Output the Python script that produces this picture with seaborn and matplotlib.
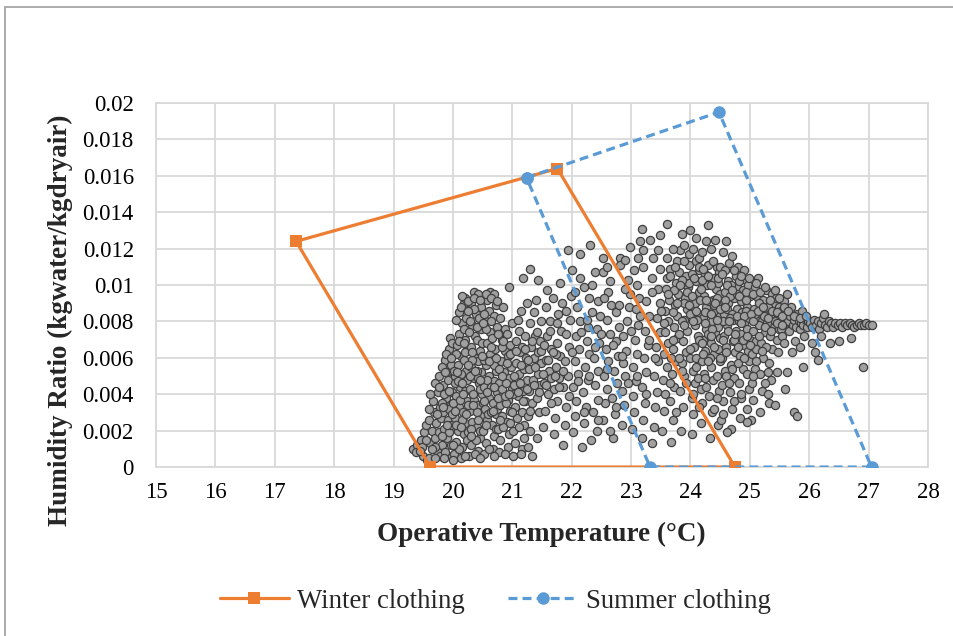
import numpy as np
import pandas as pd
import matplotlib
matplotlib.use("Agg")
import matplotlib.pyplot as plt
import seaborn as sns
from matplotlib.ticker import FuncFormatter
from matplotlib.patches import Rectangle

# comfort zone outlines (operative temperature in C, humidity ratio kg/kg)
winter_t = [19.62, 17.36, 21.76, 24.75, 19.62]
winter_w = [0.0, 0.0124, 0.0164, 0.0, 0.0]
summer_t = [21.24, 24.48, 27.05, 23.32, 21.24]
summer_w = [0.0159, 0.0195, 0.0, 0.0, 0.0159]

cloud = [
    (19.33,1.0),(19.4,1.2),(19.38,0.8),(19.46,1.5),(19.5,0.6),(19.52,1.9),(19.48,1.1),(19.55,2.3),(19.56,0.4),
    (19.6,0.5),(19.62,1.3),(19.65,2.0),(19.6,2.6),(19.68,3.0),(19.7,1.6),(19.72,2.4),(19.66,3.6),(19.75,4.1),
    (19.74,0.9),(19.78,3.3),(19.77,1.9),(19.62,4.0),(19.7,4.6),(19.8,2.7),(19.79,0.6),(19.76,5.0),
    (19.82,1.2),(19.85,2.1),(19.83,3.0),(19.88,3.8),(19.84,4.5),(19.9,5.2),(19.86,5.9),(19.93,6.5),(19.95,7.1),
    (19.9,1.6),(19.92,2.6),(19.96,3.4),(19.98,4.1),(19.91,4.8),(19.97,5.6),(19.99,0.6),(19.87,0.8),(19.94,1.9),
    (19.81,3.5),(19.89,6.2),(19.97,2.3),(19.85,4.0),(19.99,6.8),(19.93,3.2),(19.96,1.2),(19.82,5.5),
    (20.02,0.7),(20.05,1.4),(20.08,2.0),(20.03,2.7),(20.1,3.3),(20.06,3.9),(20.12,4.4),(20.04,5.0),(20.09,5.6),
    (20.14,6.1),(20.07,6.7),(20.11,7.3),(20.15,7.9),(20.1,8.5),(20.18,9.0),(20.2,9.3),(20.16,1.1),(20.19,1.8),
    (20.21,2.4),(20.17,3.0),(20.23,3.6),(20.2,4.2),(20.24,4.8),(20.22,5.3),(20.18,5.9),(20.24,6.5),(20.21,7.0),
    (20.13,0.5),(20.01,3.5),(20.03,4.6),(20.06,6.2),(20.13,5.1),(20.15,2.6),(20.22,8.2),(20.19,7.6),(20.08,4.7),
    (20.12,3.7),(20.05,2.3),(20.24,1.5),(20.1,1.0),(20.17,4.0),(20.02,5.3),(20.2,6.3),(20.14,8.8),
    (20.27,0.6),(20.3,1.2),(20.26,1.9),(20.33,2.5),(20.29,3.1),(20.35,3.7),(20.28,4.3),(20.36,4.9),(20.31,5.5),
    (20.38,6.0),(20.3,6.6),(20.37,7.2),(20.33,7.8),(20.39,8.4),(20.3,9.0),(20.36,9.6),(20.42,0.9),(20.45,1.6),
    (20.41,2.2),(20.47,2.8),(20.43,3.4),(20.49,4.0),(20.44,4.6),(20.48,5.2),(20.42,5.8),(20.46,6.4),(20.41,7.0),
    (20.48,7.6),(20.44,8.2),(20.47,8.8),(20.43,9.5),(20.26,3.4),(20.28,5.0),(20.34,4.0),(20.4,3.0),(20.32,5.9),
    (20.45,4.3),(20.39,1.5),(20.27,7.4),(20.35,8.7),(20.49,6.8),(20.4,5.3),(20.3,2.1),(20.46,2.0),(20.37,0.7),
    (20.5,3.5),(20.33,6.3),(20.42,4.9),
    (20.52,0.7),(20.55,1.3),(20.51,2.0),(20.58,2.6),(20.54,3.2),(20.6,3.8),(20.53,4.4),(20.61,5.0),(20.56,5.6),
    (20.63,6.2),(20.57,6.8),(20.62,7.4),(20.55,8.0),(20.6,8.6),(20.58,9.2),(20.62,9.6),(20.67,1.0),(20.7,1.7),
    (20.66,2.3),(20.72,2.9),(20.68,3.5),(20.74,4.1),(20.69,4.7),(20.73,5.3),(20.67,5.9),(20.71,6.5),(20.66,7.1),
    (20.74,7.7),(20.69,8.3),(20.72,8.9),(20.7,9.5),(20.52,3.6),(20.57,4.8),(20.64,4.4),(20.59,2.9),(20.65,3.0),
    (20.53,5.9),(20.75,3.2),(20.6,1.0),(20.73,2.1),(20.64,6.6),(20.56,7.6),(20.7,5.6),
    (20.77,0.8),(20.8,1.5),(20.76,2.1),(20.83,2.8),(20.79,3.4),(20.85,4.0),(20.78,4.6),(20.86,5.2),(20.81,5.8),
    (20.88,6.4),(20.82,7.0),(20.87,7.6),(20.8,8.2),(20.84,8.8),(20.92,1.1),(20.95,1.8),(20.91,2.5),(20.97,3.1),
    (20.93,3.7),(20.99,4.3),(20.94,4.9),(20.98,5.5),(20.92,6.1),(20.96,6.7),(20.91,7.3),(20.99,7.9),(20.95,9.9),
    (20.76,3.8),(20.82,4.3),(20.89,3.5),(20.85,2.2),(20.9,4.6),(20.78,5.4),(20.96,2.4),(20.88,0.7),(20.83,6.6),
    (21.02,0.6),(21.05,1.3),(21.01,2.0),(21.08,2.7),(21.04,3.3),(21.1,3.9),(21.03,4.5),(21.11,5.1),(21.06,5.7),
    (21.13,6.3),(21.07,6.9),(21.12,7.5),(21.09,8.1),(21.18,10.4),(21.17,1.0),(21.2,2.3),(21.16,3.0),(21.22,3.6),
    (21.18,4.2),(21.24,4.8),(21.19,5.4),(21.23,6.0),(21.17,6.6),(21.21,7.2),(21.15,8.6),(21.24,9.0),(21.14,0.7),
    (21.01,4.0),(21.13,4.6),(21.2,1.6),
    (21.27,1.1),(21.3,2.0),(21.26,2.8),(21.33,3.5),(21.29,4.2),(21.35,4.8),(21.28,5.4),(21.36,6.0),(21.31,6.6),
    (21.38,7.2),(21.3,7.9),(21.37,8.5),(21.3,10.9),(21.43,10.3),(21.42,1.6),(21.45,3.0),(21.41,3.8),(21.47,4.5),
    (21.44,5.1),(21.49,5.7),(21.43,6.3),(21.46,6.9),(21.48,8.0),(21.4,9.2),(21.34,0.6),
    (21.52,2.2),(21.55,3.1),(21.58,9.7),(21.6,4.0),(21.53,4.6),(21.62,5.3),(21.56,5.9),(21.65,6.5),(21.59,7.2),
    (21.64,8.0),(21.57,8.8),(21.68,9.3),(21.7,1.8),(21.72,2.7),(21.75,3.6),(21.71,4.3),(21.78,4.9),(21.74,5.5),
    (21.8,6.1),(21.76,6.8),(21.82,7.5),(21.77,8.4),(21.84,9.0),(21.8,10.1),(21.88,2.3),(21.9,3.3),(21.86,4.4),
    (21.93,5.0),(21.89,5.8),(21.95,6.6),(21.91,7.3),(21.97,8.1),(21.94,11.9),(21.99,9.4),(21.85,1.2),(21.66,4.9),
    (21.73,6.2),
    (22.02,1.9),(22.05,2.8),(22.08,3.6),(22.03,4.4),(22.1,5.1),(22.06,5.8),(22.12,6.5),(22.07,7.2),(22.14,8.0),
    (22.09,8.8),(22.14,10.4),(22.14,11.7),(22.18,1.1),(22.2,2.4),(22.24,3.3),(22.19,4.1),(22.27,4.8),(22.22,5.5),
    (22.3,6.2),(22.25,6.9),(22.31,12.2),(22.28,7.7),(22.34,8.5),(22.3,9.3),(22.39,10.7),(22.36,3.0),(22.4,4.5),
    (22.44,5.3),(22.38,6.0),(22.46,6.8),(22.42,7.6),(22.48,8.3),(22.45,9.1),(22.43,2.0),(22.33,1.5),
    (22.53,11.5),(22.53,10.7),(22.52,2.6),(22.56,3.5),(22.6,4.3),(22.55,5.0),(22.62,5.8),(22.58,6.5),(22.64,7.3),
    (22.59,8.1),(22.66,8.9),(22.61,9.6),(22.7,1.6),(22.73,2.9),(22.68,3.8),(22.76,4.6),(22.71,5.3),(22.78,6.1),
    (22.74,6.9),(22.8,7.7),(22.75,8.5),(22.81,11.5),(22.81,11.1),(22.85,2.3),(22.88,3.4),(22.84,4.2),(22.9,5.0),
    (22.86,5.7),(22.92,6.4),(22.87,7.2),(22.95,10.3),(22.93,8.0),(22.98,12.1),(22.96,8.8),(22.99,9.5),(22.65,2.0),
    (23.02,2.1),(23.05,3.0),(23.03,3.9),(23.08,4.7),(23.04,5.5),(23.1,6.2),(23.06,7.0),(23.11,7.8),(23.1,10.0),
    (23.11,11.5),(23.15,12.4),(23.18,13.1),(23.08,8.7),(23.14,9.3),(23.18,1.6),(23.2,2.6),(23.24,3.5),(23.19,4.4),
    (23.26,5.2),(23.22,6.0),(23.28,6.7),(23.23,7.5),(23.3,8.3),(23.25,9.1),(23.32,12.5),(23.35,10.4),(23.37,11.5),
    (23.38,2.2),(23.4,3.3),(23.44,4.1),(23.39,5.0),(23.46,5.8),(23.42,6.6),(23.48,7.4),(23.43,8.2),(23.49,9.0),
    (23.45,9.8),(23.48,10.9),(23.48,12.75),(23.36,1.3),
    (23.6,13.35),(23.6,10.4),(23.52,2.0),(23.55,3.1),(23.58,4.0),(23.53,4.8),(23.6,5.5),(23.56,6.2),(23.62,6.8),
    (23.57,7.4),(23.63,8.0),(23.58,8.6),(23.64,9.2),(23.59,9.8),(23.65,10.9),(23.61,11.5),(23.68,1.4),(23.7,2.6),
    (23.66,3.6),(23.73,4.4),(23.69,5.1),(23.75,5.8),(23.71,6.5),(23.77,7.1),(23.72,7.7),(23.78,8.3),(23.74,8.9),
    (23.79,9.5),(23.76,10.1),(23.8,10.7),(23.77,11.3),(23.82,11.9),(23.85,12.8),(23.84,2.0),(23.87,3.3),
    (23.83,4.2),(23.9,5.0),(23.86,5.7),(23.92,6.3),(23.88,6.9),(23.94,7.5),(23.89,8.1),(23.95,8.7),(23.91,9.3),
    (23.96,9.9),(23.92,10.5),(23.98,11.1),(23.97,11.7),(23.93,4.6),(23.99,6.0),(23.99,8.4),(23.55,7.9),
    (23.67,6.0),(23.81,7.3),(23.9,9.0),(23.98,10.1),(23.73,9.7),(23.85,10.3),
    (24.02,1.8),(24.05,2.9),(24.03,3.8),(24.08,4.6),(24.04,5.3),(24.1,6.0),(24.06,6.6),(24.12,7.2),(24.07,7.8),
    (24.13,8.4),(24.08,9.0),(24.14,9.6),(24.09,10.2),(24.15,10.8),(24.1,11.3),(24.05,12.0),(24.0,13.0),
    (24.18,2.4),(24.2,3.5),(24.17,4.3),(24.23,5.1),(24.19,5.8),(24.25,6.4),(24.21,7.0),(24.26,7.6),(24.22,8.2),
    (24.27,8.8),(24.23,9.4),(24.28,10.0),(24.24,10.6),(24.29,11.1),(24.3,13.3),(24.26,12.4),(24.33,1.6),
    (24.36,3.0),(24.32,3.9),(24.38,4.8),(24.34,5.5),(24.4,6.2),(24.35,6.8),(24.41,7.4),(24.37,8.0),(24.42,8.6),
    (24.38,9.2),(24.43,9.8),(24.39,10.4),(24.44,11.0),(24.42,12.5),(24.46,2.3),(24.48,4.2),(24.45,5.0),
    (24.49,5.8),(24.47,6.5),(24.5,7.1),(24.46,7.7),(24.49,8.3),(24.45,8.9),(24.5,9.5),(24.47,10.1),(24.48,10.7),
    (24.5,11.0),(24.11,8.1),(24.16,9.2),(24.2,10.3),(24.25,8.5),(24.31,9.1),(24.34,10.0),(24.4,8.9),(24.29,7.3),
    (24.36,7.6),(24.44,9.3),(24.03,10.6),(24.15,11.0),(24.21,6.2),(24.33,6.0),(24.12,4.9),(24.27,4.4),(24.4,3.2),
    (24.52,2.6),(24.55,3.6),(24.53,4.5),(24.58,5.3),(24.54,6.0),(24.6,6.6),(24.56,7.2),(24.62,7.8),(24.57,8.4),
    (24.63,9.0),(24.58,9.6),(24.64,10.2),(24.59,10.8),(24.6,12.4),(24.65,11.2),(24.68,2.1),(24.7,3.2),
    (24.67,4.1),(24.73,4.9),(24.69,5.6),(24.75,6.3),(24.71,6.9),(24.77,7.5),(24.72,8.1),(24.78,8.7),(24.74,9.3),
    (24.79,9.9),(24.76,10.5),(24.8,11.0),(24.83,2.7),(24.86,3.8),(24.82,4.6),(24.88,5.4),(24.84,6.1),(24.9,6.7),
    (24.85,7.3),(24.91,7.9),(24.87,8.5),(24.92,9.1),(24.88,9.7),(24.93,10.3),(24.9,10.8),(24.96,3.2),(24.98,4.3),
    (24.95,5.1),(24.99,5.8),(24.97,6.4),(25.0,7.0),(24.96,7.6),(24.99,8.2),(24.95,8.8),(25.0,9.4),(24.97,10.0),
    (24.55,8.0),(24.61,8.7),(24.66,9.4),(24.7,8.4),(24.81,8.0),(24.85,9.1),(24.93,8.6),(24.73,7.0),(24.64,7.5),
    (24.89,7.0),(24.78,9.5),(24.58,9.2),(24.82,10.2),(24.69,10.0),(24.94,9.6),(24.6,5.0),(24.8,5.7),(24.74,3.6),
    (24.62,1.9),
    (25.02,2.6),(25.05,3.7),(25.03,4.6),(25.08,5.4),(25.04,6.2),(25.1,6.9),(25.06,7.5),(25.12,8.1),(25.07,8.7),
    (25.13,9.3),(25.08,9.9),(25.14,10.4),(25.18,3.0),(25.2,4.2),(25.17,5.1),(25.23,6.0),(25.19,6.8),(25.25,7.4),
    (25.21,8.0),(25.26,8.6),(25.22,9.2),(25.27,9.7),(25.33,3.5),(25.36,4.8),(25.32,5.7),(25.38,6.5),(25.34,7.2),
    (25.4,7.8),(25.35,8.4),(25.41,9.0),(25.37,9.5),(25.46,5.2),(25.48,6.3),(25.45,7.0),(25.49,7.6),(25.47,8.2),
    (25.5,8.8),(25.44,9.3),(25.09,8.4),(25.16,7.8),(25.24,8.3),(25.29,7.9),(25.15,9.0),(25.31,8.8),(25.43,8.0),
    (25.11,6.5),(25.28,6.6),(25.3,4.0),(25.42,3.4),
    (25.52,7.6),(25.55,8.1),(25.53,8.6),(25.58,9.1),(25.54,7.2),(25.6,7.9),(25.56,8.4),(25.62,9.5),(25.57,6.8),
    (25.64,8.0),(25.66,7.5),(25.68,8.3),(25.7,8.8),(25.72,7.8),(25.74,8.1),(25.76,6.9),(25.78,7.7),(25.8,8.4),
    (25.82,8.0),(25.84,7.6),(25.86,7.9),(25.88,8.6),(25.9,7.8),(25.92,7.2),(25.94,8.1),(25.96,7.7),(25.98,8.0),
    (25.63,5.2),(25.71,6.3),(25.85,6.6),(25.75,3.0),(25.8,2.8),(25.6,4.3),(25.9,5.5),
    (26.02,7.9),(26.05,7.7),(26.08,8.1),(26.11,7.8),(26.14,8.0),(26.17,7.6),(26.2,7.9),(26.23,8.2),(26.26,7.8),
    (26.3,7.7),(26.33,8.0),(26.36,7.9),(26.4,7.7),(26.44,7.9),(26.48,7.8),(26.52,7.9),(26.56,7.7),(26.6,7.9),
    (26.64,7.8),(26.68,7.9),(26.72,7.8),(26.76,7.7),(26.8,7.8),(26.84,7.9),(26.88,7.8),(26.92,7.8),(26.96,7.9),
    (27.0,7.8),(27.05,7.8),(26.1,6.3),(26.2,7.2),(26.35,6.8),(26.5,6.9),(26.7,7.1),(26.9,5.5),(26.25,8.4),
    (26.05,6.8),(26.15,5.9),
    # second pass over the denser parts of the cloud
    (19.7,1.1),(19.73,2.9),(19.77,4.4),(19.81,1.7),(19.84,3.3),(19.87,5.2),(19.9,2.3),(19.93,4.2),(19.96,6.0),
    (19.99,2.9),(20.01,1.2),(20.04,3.1),(20.07,5.2),(20.1,6.9),(20.13,2.2),(20.16,4.6),(20.19,6.8),(20.22,2.9),
    (20.25,5.6),(20.28,8.0),(20.31,1.7),(20.34,3.4),(20.37,5.3),(20.4,7.7),(20.43,2.6),(20.46,4.8),(20.49,6.1),
    (20.52,8.4),(20.55,2.3),(20.58,4.1),(20.61,5.8),(20.64,8.0),(20.67,3.1),(20.7,4.4),(20.73,6.0),(20.76,7.3),
    (20.79,2.6),(20.82,5.0),(20.85,6.9),(20.88,3.9),(20.91,5.7),(20.94,4.0),(20.97,6.2),(21.0,3.0),(21.03,5.0),
    (21.06,6.4),(21.09,4.1),(21.12,2.2),(21.15,5.6),(21.18,3.6),(21.21,6.5),(21.24,4.3),(21.27,5.9),(21.3,3.1),
    (21.33,6.9),(21.36,4.5),(21.39,5.5),(21.42,7.4),(21.45,4.1),(21.48,6.4),(21.51,5.1),(21.54,6.7),(21.57,4.5),
    (21.6,5.9),(21.63,7.5),(21.66,3.5),(21.69,6.3),(21.72,5.0),(21.75,7.9),(21.78,4.4),
    (20.05,8.1),(20.15,9.4),(20.25,9.1),(20.35,9.3),(20.45,9.2),(20.55,9.5),(20.65,9.3),(20.75,9.1),(20.25,8.6),
    (20.5,7.9),(19.6,3.2),(19.65,1.0),(19.55,1.5),(19.45,0.9),(19.7,0.5),(19.85,0.5),(20.0,0.4),(20.2,0.6),
    (20.45,0.5),(20.7,0.6),
    (21.85,5.3),(21.9,8.6),(21.95,3.9),(22.0,6.3),(22.05,9.6),(22.1,4.7),(22.15,7.4),(22.2,3.0),(22.25,8.1),
    (22.3,5.0),(22.35,10.0),(22.4,6.6),(22.45,3.7),(22.5,7.3),(22.55,9.3),(22.6,5.4),(22.65,10.2),(22.7,6.7),
    (22.75,3.3),(22.8,8.9),(22.85,6.1),(22.9,9.8),(22.95,4.6),(23.0,7.5),(23.05,10.8),(23.1,5.0),(23.15,8.3),
    (23.2,11.0),(23.25,4.0),(23.3,7.0),(23.35,9.6),(23.4,6.0),(23.45,11.9),(23.5,8.6),(22.2,9.9),(22.6,11.0),
    (22.0,10.8),(22.9,11.4),(23.2,11.9),(22.45,2.6),
    (23.62,9.5),(23.66,10.5),(23.7,8.5),(23.74,11.0),(23.78,9.0),(23.82,10.0),(23.86,8.0),(23.9,11.3),(23.94,9.6),
    (23.98,8.9),(24.02,9.4),(24.06,10.4),(24.1,8.6),(24.14,11.5),(24.18,9.8),(24.22,10.9),(24.26,9.2),(24.3,10.5),
    (24.34,8.4),(24.38,11.3),(24.42,9.0),(24.46,10.4),(24.5,8.7),(24.54,10.6),(24.58,8.8),(24.62,10.0),(24.66,8.2),
    (24.7,9.7),(24.74,10.8),(24.78,8.3),(24.82,9.4),(24.86,10.5),(24.9,8.3),(24.94,9.2),(24.98,10.4),(25.02,8.4),
    (25.06,9.5),(25.1,10.1),(25.14,8.6),(25.18,9.6),(25.22,8.8),(25.26,9.9),(25.3,8.2),(25.34,9.2),(25.38,8.6),
    (25.42,9.7),(25.46,8.5),(25.5,9.3),(25.54,8.3),(25.58,8.8),
    (24.05,8.0),(24.15,7.0),(24.25,7.9),(24.35,7.2),(24.45,8.1),(24.55,7.0),(24.65,8.0),(24.75,7.3),(24.85,7.9),
    (24.95,7.2),(25.05,8.0),(25.15,7.2),(25.25,7.7),(25.35,7.5),(25.45,7.9),(25.55,7.8),(25.65,8.6),(25.75,8.3),
    (25.85,8.2),(25.95,8.3),(23.7,7.0),(23.8,6.0),(23.9,7.8),(24.0,6.5),(24.1,5.5),(24.2,6.8),(24.3,5.8),
    (24.4,6.6),(24.5,6.0),(24.6,6.3),(24.7,5.4),(24.8,6.6),(24.9,6.0),(25.0,6.7),(25.1,5.8),(25.2,6.4),(25.3,5.2),
    (23.65,4.6),(23.85,5.3),(24.05,4.0),(24.25,4.9),(24.45,3.8),(24.65,4.6),(24.85,4.0),(25.05,5.0),(25.25,4.6),
    (23.75,3.0),(24.15,3.3),(24.55,2.9),(24.95,2.5),(24.2,11.8),(24.35,12.0),(24.1,12.6),(24.55,11.8),
    (23.9,12.2),(24.7,11.6),(23.7,12.0),
]

x_ticks = list(range(15, 29))
y_ticks = [0, 0.002, 0.004, 0.006, 0.008, 0.01, 0.012, 0.014, 0.016, 0.018, 0.02]

pts = pd.DataFrame(cloud, columns=["temp", "w_gkg"])
pts["w"] = pts["w_gkg"] / 1000.0
winter = pd.DataFrame({"temp": winter_t, "w": winter_w})
summer = pd.DataFrame({"temp": summer_t, "w": summer_w})

sns.set_style("white")
plt.rcParams["font.family"] = ["Liberation Serif", "DejaVu Serif"]

fig = plt.figure(figsize=(9.54, 6.36), dpi=100)
ax = fig.add_axes([0.1635, 0.2657, 0.8092, 0.5723])

grid_c = "#d9d9d9"
ax.set_axisbelow(True)
ax.grid(True, color=grid_c, linewidth=1.3)
for s in ax.spines.values():
    s.set_color(grid_c)
    s.set_linewidth(1.3)

sns.scatterplot(data=pts, x="temp", y="w", ax=ax, s=35, color="#a0a0a0",
                edgecolor="#3f3f3f", linewidth=0.9, zorder=3, legend=False)

sns.lineplot(data=winter, x="temp", y="w", ax=ax, sort=False, estimator=None,
             color="#ed7d31", linewidth=2.3, marker="s", markersize=9,
             markeredgewidth=0, zorder=4, label="Winter clothing")
sns.lineplot(data=summer, x="temp", y="w", ax=ax, sort=False, estimator=None,
             color="#5b9bd5", linewidth=2.3, marker="o", markersize=9,
             markeredgewidth=0, zorder=5, label="Summer clothing",
             dashes=False, linestyle=(0, (2.8, 1.6)))

ax.set_xlim(15, 28)
ax.set_ylim(0, 0.02)
ax.set_xticks(x_ticks)
ax.set_yticks(y_ticks)
ax.yaxis.set_major_formatter(FuncFormatter(lambda v, p: "%g" % round(v, 4)))
ax.tick_params(axis="both", length=0, labelsize=16.5, colors="black")
ax.tick_params(axis="x", pad=11)
ax.tick_params(axis="y", pad=16)

ax.set_xlabel("Operative Temperature (°C)", fontsize=19.5, fontweight="bold")
ax.set_ylabel("Humidity Ratio (kgwater/kgdryair)", fontsize=19.5, fontweight="bold")
ax.xaxis.set_label_coords(0.499, -0.152)
ax.yaxis.set_label_coords(-0.108, 0.404)

leg = ax.legend(loc="center", ncol=2, frameon=False, fontsize=19.3, handlelength=2.6,
                columnspacing=1.6, handletextpad=0.3)
leg.set_bbox_to_anchor((495 / 954, 1 - 601 / 636), transform=fig.transFigure)

# outer chart frame (only top and left edges visible in the crop)
fig.patches.append(Rectangle((5 / 954, -0.1), 1.2, 1 - 7 / 636 + 0.1, transform=fig.transFigure,
                             fill=False, edgecolor="#a6a6a6", linewidth=1.3))

fig.savefig("out.png", dpi=100)
